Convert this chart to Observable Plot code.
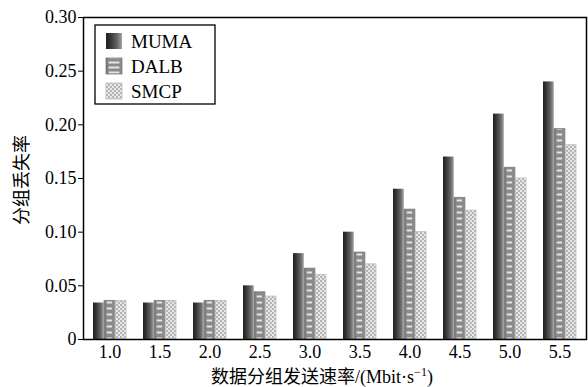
<!DOCTYPE html>
<html>
<head>
<meta charset="utf-8">
<script src="https://cdn.jsdelivr.net/npm/d3@7"></script>
<script src="https://cdn.jsdelivr.net/npm/@observablehq/plot@0.6"></script>
<style>
  body { margin: 0; background: #fff; }
  #chart svg { display: block; }
</style>
</head>
<body>
<div id="chart"></div>
<script>
// Packet loss rate vs. packet sending rate for three routing protocols
const rates = ["1.0", "1.5", "2.0", "2.5", "3.0", "3.5", "4.0", "4.5", "5.0", "5.5"];
const series = ["MUMA", "DALB", "SMCP"];
const muma = [0.034, 0.034, 0.034, 0.050, 0.080, 0.100, 0.140, 0.170, 0.210, 0.240];
const dalb = [0.036, 0.036, 0.036, 0.044, 0.066, 0.081, 0.121, 0.132, 0.160, 0.196];
const smcp = [0.036, 0.036, 0.036, 0.040, 0.060, 0.070, 0.100, 0.120, 0.150, 0.181];
const yTicks = [0, 0.05, 0.10, 0.15, 0.20, 0.25, 0.30];
const yLabel = "分组丢失率";

const rows = rates.map((rate, i) => ({rate, MUMA: muma[i], DALB: dalb[i], SMCP: smcp[i]}));

const serif = "'Liberation Serif', 'Times New Roman', serif";
const cjk = "'Noto Sans CJK SC', sans-serif";

// each group band holds three side-by-side bars
const barW = 10.6;
const gap = 0.5;

const chart = Plot.plot({
  width: 588,
  height: 387,
  marginLeft: 83,
  marginRight: 2,
  marginTop: 17,
  marginBottom: 48,
  style: {fontFamily: serif, fontSize: "18px", background: "#fff", color: "#000"},
  x: {type: "band", domain: rates, paddingInner: 0.345, paddingOuter: 0.2, tickSize: 0, tickPadding: 6, label: null},
  y: {domain: [0, 0.3], ticks: yTicks, tickFormat: d => d === 0 ? "0" : d.toFixed(2), tickSize: 5, tickPadding: 2, label: null},
  marks: [
    Plot.barY(rows, {x: "rate", y: "MUMA", fill: "url(#fill-muma)", insetLeft: 0, insetRight: 2 * (barW + gap)}),
    Plot.barY(rows, {x: "rate", y: "DALB", fill: "url(#fill-dalb)", stroke: "#7c7c7c", strokeWidth: 0.8, insetLeft: barW + gap, insetRight: barW + gap}),
    Plot.barY(rows, {x: "rate", y: "SMCP", fill: "url(#fill-smcp)", stroke: "#bdbdbd", strokeWidth: 0.8, insetLeft: 2 * (barW + gap), insetRight: 0}),
    Plot.frame({stroke: "#000", strokeWidth: 1.5})
  ]
});

document.getElementById("chart").appendChild(chart);

const svg = d3.select(chart);
const xs = chart.scale("x");
const bandX = xs.apply(rates[0]);
const step = xs.step;

// fills: dark horizontal gradient, striped grey, light checkerboard
const defs = svg.insert("defs", ":first-child");

function mumaGradient(id) {
  const g = defs.append("linearGradient").attr("id", id).attr("x1", 0).attr("x2", 1).attr("y1", 0).attr("y2", 0);
  [[0, "#1e1e1e"], [0.3, "#383838"], [0.7, "#666"], [1, "#a5a5a5"]]
    .forEach(([o, c]) => g.append("stop").attr("offset", o).attr("stop-color", c));
}
mumaGradient("fill-muma");

function stripes(id, x0, width, w, period) {
  const p = defs.append("pattern").attr("id", id).attr("patternUnits", "userSpaceOnUse")
    .attr("x", x0).attr("y", 0).attr("width", width).attr("height", period);
  p.append("rect").attr("width", width).attr("height", period).attr("fill", "#8a8a8a");
  p.append("rect").attr("x", 0).attr("width", 1.6).attr("height", period).attr("fill", "#747474");
  p.append("rect").attr("x", 2.6).attr("y", 1.5).attr("width", w - 5.2).attr("height", 2).attr("fill", "#e4e4e4");
}
stripes("fill-dalb", bandX + barW + gap, step, barW, 6);

function checker(id) {
  const p = defs.append("pattern").attr("id", id).attr("patternUnits", "userSpaceOnUse")
    .attr("width", 4).attr("height", 4);
  p.append("rect").attr("width", 4).attr("height", 4).attr("fill", "#e8e8e8");
  p.append("rect").attr("width", 2).attr("height", 2).attr("fill", "#b4b4b4");
  p.append("rect").attr("x", 2).attr("y", 2).attr("width", 2).attr("height", 2).attr("fill", "#b4b4b4");
}
checker("fill-smcp");

// legend box in the upper-left corner of the plot area
const key = svg.append("g").attr("text-anchor", "start");
key.append("rect").attr("x", 95).attr("y", 25).attr("width", 120).attr("height", 79)
  .attr("fill", "#fff").attr("stroke", "#000").attr("stroke-width", 1.3);
const swX = 106, swS = 16;
const keyY = [41, 66, 91];
stripes("key-dalb", swX, swS, swS, 5);
const keyFill = ["url(#fill-muma)", "url(#key-dalb)", "url(#fill-smcp)"];
const keyStroke = ["none", "#7c7c7c", "#bdbdbd"];
series.forEach((s, i) => {
  key.append("rect").attr("x", swX).attr("y", keyY[i] - swS / 2).attr("width", swS).attr("height", swS)
    .attr("fill", keyFill[i]).attr("stroke", keyStroke[i]).attr("stroke-width", 0.8);
  key.append("text").attr("x", 131).attr("y", keyY[i]).attr("dy", "0.35em")
    .attr("text-anchor", "start").attr("font-family", serif).attr("font-size", 19).text(s);
});

// axis titles
svg.append("text").attr("transform", "translate(22,180) rotate(-90)")
  .attr("text-anchor", "middle").attr("dy", "0.35em")
  .attr("font-family", cjk).attr("font-size", 18).text(yLabel);

const xt = svg.append("text").attr("x", 322).attr("y", 377).attr("dy", "0.35em")
  .attr("text-anchor", "middle").attr("font-family", cjk).attr("font-size", 18);
xt.append("tspan").text("数据分组发送速率");
xt.append("tspan").attr("font-family", serif).text("/(Mbit·s");
xt.append("tspan").attr("font-family", serif).attr("font-size", 12).attr("dy", "-0.6em").text("−1");
xt.append("tspan").attr("font-family", serif).attr("dy", "0.4em").text(")");
</script>
</body>
</html>
